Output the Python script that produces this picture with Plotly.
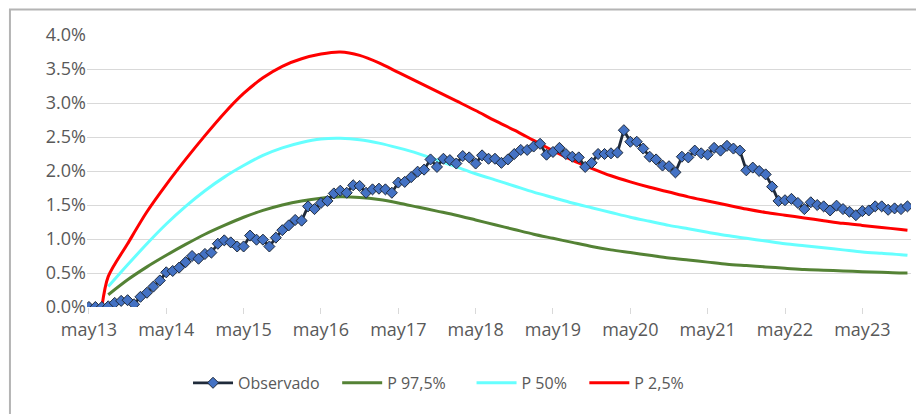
import plotly.graph_objects as go

# ---- data (percent values) ----
obs_hours = [2 * i for i in range(128)]
observado = [
    0.00, 0.00, 0.00, 0.01, 0.06, 0.09, 0.10, 0.04, 0.15, 0.21,
    0.30, 0.39, 0.51, 0.53, 0.58, 0.66, 0.75, 0.71, 0.78, 0.80,
    0.93, 0.98, 0.95, 0.89, 0.89, 1.05, 0.99, 0.99, 0.89, 1.02,
    1.13, 1.20, 1.28, 1.27, 1.48, 1.44, 1.53, 1.56, 1.67, 1.71,
    1.68, 1.79, 1.78, 1.68, 1.73, 1.74, 1.73, 1.68, 1.83, 1.84,
    1.91, 1.99, 2.02, 2.17, 2.06, 2.18, 2.16, 2.11, 2.22, 2.20,
    2.11, 2.23, 2.18, 2.18, 2.12, 2.17, 2.25, 2.31, 2.31, 2.36,
    2.40, 2.24, 2.28, 2.34, 2.25, 2.21, 2.20, 2.06, 2.12, 2.25,
    2.25, 2.26, 2.27, 2.60, 2.43, 2.43, 2.33, 2.21, 2.17, 2.08,
    2.07, 1.98, 2.21, 2.20, 2.30, 2.26, 2.24, 2.34, 2.30, 2.37,
    2.33, 2.30, 2.01, 2.05, 2.00, 1.95, 1.77, 1.56, 1.57, 1.59,
    1.53, 1.44, 1.54, 1.50, 1.48, 1.42, 1.49, 1.44, 1.40, 1.35,
    1.41, 1.42, 1.48, 1.48, 1.43, 1.45, 1.44, 1.48,
]

model_hours = [6 * k for k in range(1, 43)] + [254]
p975 = [0.18, 0.40, 0.59, 0.76, 0.92, 1.07, 1.20, 1.32, 1.42, 1.50,
        1.56, 1.60, 1.62, 1.61, 1.58, 1.53, 1.47, 1.41, 1.35, 1.28,
        1.21, 1.14, 1.07, 1.01, 0.95, 0.89, 0.84, 0.80, 0.76, 0.72,
        0.69, 0.66, 0.63, 0.61, 0.59, 0.57, 0.55, 0.54, 0.53, 0.52,
        0.51, 0.50, 0.50]
p50 = [0.30, 0.62, 0.93, 1.22, 1.48, 1.71, 1.91, 2.08, 2.23, 2.34,
       2.42, 2.47, 2.48, 2.46, 2.41, 2.34, 2.26, 2.16, 2.06, 1.96,
       1.87, 1.78, 1.69, 1.61, 1.53, 1.46, 1.39, 1.32, 1.26, 1.20,
       1.15, 1.10, 1.05, 1.01, 0.97, 0.93, 0.90, 0.87, 0.84, 0.81,
       0.79, 0.77, 0.76]
red_hours = [0, 2, 4] + model_hours
p025 = [0.0, 0.0, 0.0,
        0.45, 0.93, 1.40, 1.80, 2.17, 2.52, 2.85, 3.14, 3.37, 3.54,
        3.65, 3.72, 3.75, 3.70, 3.59, 3.45, 3.31, 3.17, 3.03, 2.89,
        2.74, 2.60, 2.45, 2.30, 2.16, 2.04, 1.93, 1.84, 1.76, 1.69,
        1.62, 1.56, 1.50, 1.44, 1.39, 1.35, 1.31, 1.27, 1.23, 1.20,
        1.17, 1.14, 1.13]

tick_hours = [24 * d for d in range(11)]
tick_labels = ["may13", "may14", "may15", "may16", "may17", "may18",
               "may19", "may20", "may21", "may22", "may23"]
y_ticks = [0.0, 0.5, 1.0, 1.5, 2.0, 2.5, 3.0, 3.5, 4.0]

NB = "\u00a0"
FONT = "Open Sans"
GRAY = "#595959"
GRID = "#D9D9D9"
FRAME = "#B4B4B4"
RED = "#FF0000"

fig = go.Figure()
fig.add_trace(go.Scatter(x=model_hours, y=p975, mode="lines", name="P 97,5%" + NB * 5,
                         line=dict(color="#548235", width=3, shape="spline", smoothing=0.8),
                         legendrank=2))
fig.add_trace(go.Scatter(x=model_hours, y=p50, mode="lines", name="P 50%" + NB * 3,
                         line=dict(color="#66FFFF", width=3, shape="spline", smoothing=0.8),
                         legendrank=3))
# flat start of the P 2,5% series, then the smooth part (same series)
fig.add_trace(go.Scatter(x=red_hours[:3], y=p025[:3], mode="lines", name="P 2,5%",
                         line=dict(color=RED, width=3), showlegend=False,
                         legendgroup="red"))
fig.add_trace(go.Scatter(x=red_hours[2:], y=p025[2:], mode="lines", name="P 2,5%",
                         line=dict(color=RED, width=3, shape="spline", smoothing=0.8),
                         legendrank=4, legendgroup="red"))
fig.add_trace(go.Scatter(x=obs_hours, y=observado, mode="lines+markers",
                         name="Observado" + NB * 3, legendrank=1,
                         line=dict(color="#1F2A3A", width=2.8),
                         marker=dict(symbol="diamond", size=8.5, color="#4472C4",
                                     line=dict(color="#1F2A3A", width=1))))

# chart frame: only its left and top edges fall inside the view
frame = [
    dict(type="rect", xref="paper", yref="paper", x0=-0.0935, x1=1.1,
         y0=-0.6, y1=1.094, line=dict(color=FRAME, width=2),
         fillcolor="rgba(0,0,0,0)", layer="above"),
]

fig.update_layout(
    width=924, height=414,
    margin=dict(l=79, r=21, t=27, b=115),
    paper_bgcolor="white", plot_bgcolor="white",
    font=dict(family=FONT, size=16, color=GRAY),
    showlegend=True,
    legend=dict(orientation="h", x=0.1226, xanchor="left", y=-0.279, yanchor="middle",
                font=dict(family=FONT, size=16, color=GRAY),
                traceorder="normal", itemwidth=40),
    shapes=frame,
)
fig.update_xaxes(range=[-0.6, 255.1], tickmode="array", tickvals=tick_hours,
                 ticktext=tick_labels, showgrid=False, zeroline=False,
                 showline=False, ticks="outside", ticklen=6, tickcolor=GRID,
                 tickfont=dict(size=18, color=GRAY))
fig.update_yaxes(range=[0, 4.0], tickmode="array", tickvals=y_ticks,
                 ticktext=[f"{v:.1f}%" for v in y_ticks],
                 showgrid=True, gridcolor=GRID, gridwidth=1.3,
                 zeroline=False, showline=False, ticks="",
                 tickfont=dict(size=18, color=GRAY))

fig.write_html("out.html")
